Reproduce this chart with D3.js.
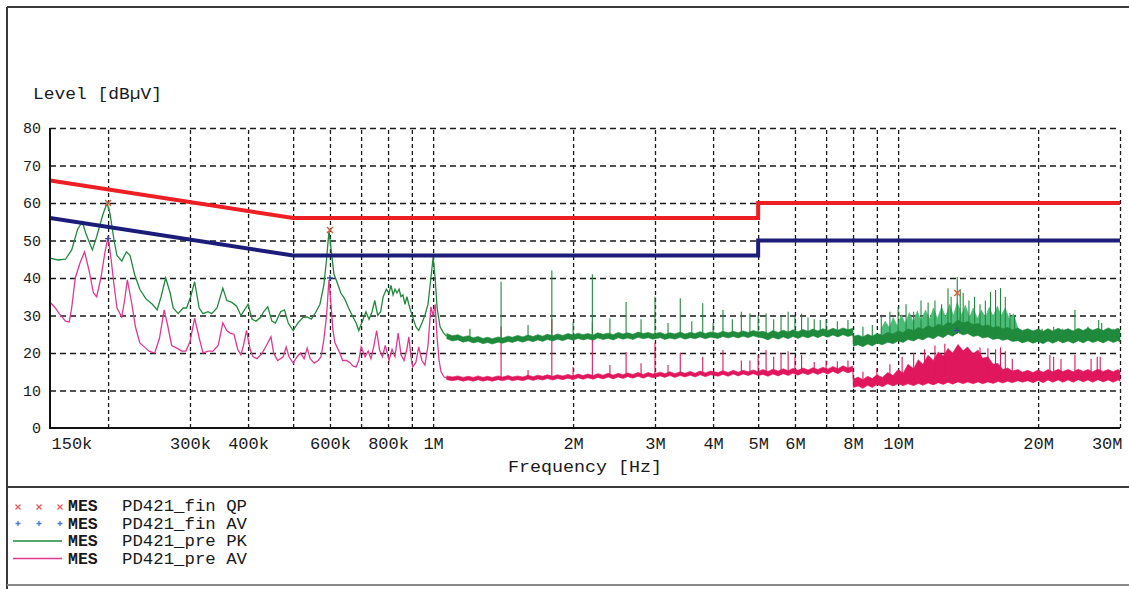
<!DOCTYPE html>
<html><head><meta charset="utf-8">
<script src="https://cdn.jsdelivr.net/npm/d3@7"></script>
<style>
body{margin:0;background:#fff;}
svg{display:block;background:#fff;}
text{font-family:"Liberation Mono","DejaVu Sans Mono",monospace;fill:#1a1a1a;}
</style></head><body>
<svg id="c" width="1129" height="589"></svg>
<script>
// ---------- data ----------
const yTicks = [0,10,20,30,40,50,60,70,80];
const xGrid = [0.2,0.3,0.4,0.5,0.6,0.7,0.8,0.9,1,2,3,4,5,6,7,8,9,10,20,30];
const xTickVals = [0.15,0.3,0.4,0.6,0.8,1,2,3,4,5,6,8,10,20,30];
const xTickLabels = ["150k","300k","400k","600k","800k","1M","2M","3M","4M","5M","6M","8M","10M","20M","30M"];
const limitF = [0.15,0.5,5,5,30];
const qpLimit = [66,56,56,60,60];
const avLimit = [56,46,46,50,50];

// PK pre-scan, 150k..1.07M  [MHz, dBuV]
const pkLow = [[0.150,45.3],[0.156,44.8],[0.162,45.0],[0.167,47.5],[0.172,53],[0.176,55],[0.179,52],[0.185,47.5],[0.189,51],[0.195,57],[0.199,60],[0.202,57],[0.206,50],[0.209,46],[0.214,44.5],[0.219,47],[0.223,46],[0.228,41],[0.234,37],[0.241,34.5],[0.249,33],[0.255,31.5],[0.260,35],[0.266,40],[0.272,36],[0.276,32],[0.283,30.5],[0.290,32],[0.295,32],[0.301,35],[0.307,39],[0.314,32],[0.320,30.5],[0.328,31],[0.334,30.5],[0.343,32],[0.353,37.3],[0.360,34],[0.369,33.5],[0.378,32.5],[0.386,30],[0.393,31.5],[0.400,33],[0.408,29],[0.416,28.5],[0.426,29.5],[0.432,31],[0.441,32.3],[0.450,28.5],[0.458,28],[0.470,31],[0.479,31.5],[0.488,28],[0.500,26],[0.512,28],[0.525,29.5],[0.536,29.6],[0.547,29],[0.560,31],[0.571,33],[0.582,38],[0.590,45],[0.597,52.5],[0.603,48],[0.612,41],[0.621,39],[0.633,36],[0.645,34.5],[0.658,32],[0.670,30],[0.683,28],[0.692,26],[0.707,29],[0.717,31],[0.728,29],[0.739,31],[0.749,34],[0.760,30],[0.771,31],[0.781,35],[0.793,37],[0.804,36],[0.812,38],[0.820,35.5],[0.828,37],[0.836,36],[0.845,37],[0.853,35],[0.861,35.5],[0.870,33],[0.878,35],[0.891,32],[0.904,29.5],[0.918,27],[0.931,26],[0.946,28],[0.960,30],[0.975,33],[0.989,40],[1.000,45.5],[1.010,40],[1.020,32],[1.035,27],[1.051,25.5],[1.067,24.5]];

// AV pre-scan, 150k..1.07M
const avLow = [[0.150,33.6],[0.154,32],[0.157,30.5],[0.162,28.5],[0.165,28.3],[0.167,32],[0.170,40],[0.174,44],[0.178,47],[0.182,42],[0.186,36],[0.189,35],[0.193,40],[0.197,47],[0.200,51],[0.203,45],[0.206,38],[0.209,32],[0.214,29.6],[0.217,34],[0.220,39.5],[0.225,33],[0.229,27],[0.234,22.7],[0.240,21.5],[0.245,20.5],[0.252,20],[0.258,24],[0.264,31.5],[0.269,27],[0.274,22],[0.281,21.3],[0.288,20.5],[0.294,20.5],[0.300,23],[0.307,29.3],[0.314,24],[0.320,20],[0.328,20.5],[0.336,20.5],[0.345,22],[0.353,28],[0.360,26],[0.366,25.3],[0.373,25],[0.380,21],[0.386,19.5],[0.391,22],[0.397,26],[0.404,21],[0.410,19],[0.418,18.5],[0.429,20],[0.438,22],[0.448,24.3],[0.454,20],[0.463,18],[0.470,18.5],[0.476,19],[0.483,21.6],[0.490,19],[0.500,17.3],[0.510,19],[0.518,20],[0.528,18.5],[0.536,21.3],[0.544,18.5],[0.555,17.3],[0.566,18],[0.574,19],[0.582,23.5],[0.590,30],[0.597,39.5],[0.603,33],[0.609,26],[0.615,22.7],[0.630,20],[0.639,18],[0.651,18],[0.661,17.5],[0.673,16.5],[0.683,16.3],[0.692,18],[0.700,21.6],[0.714,19],[0.725,20.5],[0.735,18.5],[0.746,22],[0.756,26],[0.767,20.8],[0.778,19],[0.789,22],[0.804,18],[0.816,21],[0.828,19],[0.841,25.3],[0.853,19.5],[0.866,18],[0.878,21],[0.887,24.3],[0.896,19],[0.904,16.3],[0.918,17.5],[0.931,21.6],[0.946,18],[0.960,16.8],[0.975,22],[0.989,32.3],[1.000,30],[1.010,33],[1.020,24],[1.030,18],[1.040,15],[1.056,13.6],[1.072,13.3]];

// PK noise band above 1 MHz  [MHz, low, high]
const pkBand = [[1.07,23.8,25.2],[1.10,23.2,24.6],[1.13,23.5,24.9],[1.16,22.9,24.3],[1.19,23.2,24.6],[1.22,22.7,24.1],[1.25,23.0,24.4],[1.28,22.5,23.9],[1.31,22.8,24.2],[1.34,22.4,23.8],[1.38,22.9,24.3],[1.41,22.6,24.0],[1.45,23.1,24.5],[1.48,22.8,24.2],[1.52,23.3,24.7],[1.56,22.9,24.3],[1.60,23.4,24.8],[1.64,23.0,24.4],[1.68,23.5,24.9],[1.72,23.1,24.5],[1.76,23.6,25.0],[1.81,23.2,24.6],[1.85,23.7,25.1],[1.90,23.3,24.7],[1.95,23.8,25.2],[2.00,23.4,24.8],[2.05,23.9,25.3],[2.10,23.5,24.9],[2.15,23.8,25.2],[2.21,23.4,24.8],[2.26,24.0,25.4],[2.32,23.6,25.0],[2.38,23.9,25.3],[2.44,23.5,24.9],[2.50,24.1,25.5],[2.56,23.7,25.1],[2.62,24.0,25.4],[2.69,23.6,25.0],[2.76,24.2,25.6],[2.83,23.8,25.2],[2.90,24.1,25.5],[2.97,23.7,25.1],[3.08,24.1,25.5],[3.15,23.6,25.0],[3.23,24.0,25.4],[3.31,23.7,25.1],[3.40,24.2,25.6],[3.48,23.7,25.1],[3.57,24.1,25.5],[3.66,23.8,25.2],[3.75,24.3,25.7],[3.85,23.8,25.2],[3.95,24.2,25.6],[4.10,23.9,25.3],[4.20,24.4,25.8],[4.31,24.0,25.4],[4.42,24.4,25.8],[4.53,24.0,25.4],[4.64,24.5,25.9],[4.76,24.1,25.5],[4.88,24.6,26.0],[5.00,24.2,25.6],[5.12,24.0,25.8],[5.25,23.5,25.3],[5.38,24.2,26.0],[5.52,23.7,25.5],[5.66,24.3,26.1],[5.80,23.8,25.6],[5.94,24.4,26.2],[6.09,23.9,25.7],[6.24,24.5,26.3],[6.40,24.0,25.8],[6.56,24.6,26.4],[6.72,24.1,25.9],[6.89,24.7,26.5],[7.06,24.2,26.0],[7.24,24.8,26.6],[7.42,24.3,26.1],[7.61,24.9,26.7],[7.80,24.4,26.2],[7.99,24.8,26.6],[8.01,21.8,24.4],[8.2,22.2,24.8],[8.4,21.7,24.3],[8.6,22.4,25.0],[8.8,21.9,24.5],[9.0,22.6,25.2],[9.25,22.2,24.8],[9.5,22.9,25.5],[9.75,22.5,25.1],[10.0,23.2,25.9],[10.25,22.8,25.5],[10.5,23.6,26.4],[10.8,23.2,26.0],[11.05,23.9,26.8],[11.3,23.5,26.4],[11.6,24.3,27.3],[11.9,23.8,26.8],[12.2,24.6,27.7],[12.5,24.1,27.2],[12.8,25.0,28.2],[13.1,24.5,27.7],[13.45,25.5,28.8],[13.8,24.8,28.0],[14.1,25.2,28.4],[14.5,24.4,27.6],[14.85,24.7,27.9],[15.2,24.0,27.2],[15.6,24.3,27.5],[16.0,23.6,26.8],[16.4,23.9,27.1],[16.8,23.4,26.5],[17.2,23.7,26.8],[17.6,23.1,26.2],[18.1,23.3,26.6],[18.5,22.7,26.0],[19.0,23.2,26.5],[19.5,22.6,25.9],[20.0,23.1,26.4],[20.5,22.5,25.8],[21.0,23.2,26.5],[21.5,22.6,25.9],[22.1,23.3,26.6],[22.6,22.7,26.0],[23.2,23.2,26.5],[23.8,22.6,25.9],[24.4,23.3,26.6],[25.0,22.7,26.0],[25.6,23.4,26.7],[26.2,22.8,26.1],[26.9,23.3,26.6],[27.6,22.7,26.0],[28.3,23.4,26.7],[29.0,22.8,26.1],[29.7,23.3,26.6],[30.0,22.9,26.2]];

// PK dense burst region (light green)  [MHz, low, high]
const pkDense = [[9.2,25,26.5],[9.38,25,28.5],[9.57,25,26.8],[9.76,25,29.5],[9.96,25,27.2],[10.16,25,30.2],[10.36,25.2,27.8],[10.57,25.2,30.8],[10.78,25.4,28.2],[11.0,25.4,31.2],[11.2,25.6,28.6],[11.45,25.6,31.5],[11.7,25.8,29.0],[11.9,25.8,32.0],[12.15,26,29.2],[12.4,26,32.3],[12.65,26.2,29.6],[12.9,26.2,33.0],[13.15,26.4,30.0],[13.4,26.4,33.5],[13.7,26.4,30.2],[13.95,26.2,32.8],[14.25,26,29.5],[14.5,26,32.0],[14.8,25.8,29.2],[15.1,25.8,31.5],[15.4,25.6,29.5],[15.7,25.6,32.2],[16.0,25.4,29.8],[16.35,25.4,32.5],[16.65,25.2,30.0],[17.0,25.2,32.0],[17.35,25,29.0],[17.7,25,30.5],[18.05,24.8,27.0],[18.4,24.6,25.5]];

// PK harmonics  [MHz, base, top]
const pkSpikes = [[1.2,24,26.5],[1.4,24,39],[1.6,24,27.5],[1.8,24.3,42],[2.0,24.3,28.3],[2.2,24.5,41],[2.4,24.5,29.3],[2.6,24.5,33.6],[2.8,24.5,29],[3.0,24.7,35],[3.2,24.7,28],[3.4,24.7,34.6],[3.6,24.7,28.5],[3.8,24.8,33.3],[4.0,24.8,28],[4.2,24.8,31.5],[4.4,25,29],[4.6,25,31],[4.8,25,30.6],[5.0,25,30],[5.2,25.2,30.6],[5.4,25.2,29],[5.6,25.2,30],[5.8,25.3,31],[6.0,25.3,30],[6.2,25.3,30.5],[6.4,25.4,29.5],[6.6,25.4,29],[6.8,25.5,28.8],[7.0,25.5,29],[7.4,25.6,28.5],[7.8,25.7,28.8],[8.4,23,27],[8.8,23,27.5],[9.2,23.3,29.6],[9.6,23.5,31],[10.0,24,32.3],[10.4,24.2,33],[10.8,24.4,31],[11.2,24.6,34],[11.6,24.8,33.5],[12.0,25,34],[12.4,25.2,33],[12.8,25.5,37.3],[13.0,25.7,35],[13.4,26,40.3],[13.6,26,37],[13.8,26,36],[14.2,25.8,34],[14.6,25.5,35],[15.0,25.3,33],[15.4,25,34],[15.8,25,36.3],[16.2,24.8,36.8],[16.6,24.6,37.3],[17.0,24.5,35],[17.4,24.3,30.6],[17.8,24.2,30],[20.4,24,26.5],[21.6,24,27],[22.6,24,26.5],[24.0,24,31.5],[25.6,24,27],[27.0,24,28.8],[27.4,24,28],[29.0,24,26.5]];

// AV noise band above 1 MHz  [MHz, low, high]
const avBand = [[1.07,12.9,13.9],[1.10,12.6,13.6],[1.13,12.9,13.9],[1.16,12.5,13.5],[1.19,12.8,13.8],[1.22,12.5,13.5],[1.25,12.9,13.9],[1.28,12.5,13.5],[1.31,12.8,13.8],[1.34,12.5,13.5],[1.38,12.9,13.9],[1.41,12.6,13.6],[1.45,13.0,14.0],[1.48,12.6,13.6],[1.52,12.9,13.9],[1.56,12.6,13.6],[1.60,13.1,14.1],[1.64,12.7,13.7],[1.68,13.1,14.1],[1.72,12.8,13.8],[1.76,13.2,14.2],[1.81,12.8,13.8],[1.85,13.2,14.2],[1.90,12.9,13.9],[1.95,13.3,14.3],[2.00,12.9,13.9],[2.05,13.4,14.4],[2.10,13.0,14.0],[2.15,13.4,14.4],[2.21,13.0,14.0],[2.26,13.5,14.5],[2.32,13.1,14.1],[2.38,13.6,14.6],[2.44,13.1,14.1],[2.50,13.6,14.6],[2.56,13.2,14.2],[2.62,13.7,14.7],[2.69,13.3,14.3],[2.76,13.8,14.8],[2.83,13.3,14.3],[2.90,13.8,14.8],[2.97,13.4,14.4],[3.08,13.9,14.9],[3.15,13.5,14.5],[3.23,14.0,15.0],[3.31,13.5,14.5],[3.40,14.0,15.0],[3.48,13.6,14.6],[3.57,14.1,15.1],[3.66,13.6,14.6],[3.75,14.2,15.2],[3.85,13.7,14.7],[3.95,14.2,15.2],[4.10,13.8,14.8],[4.20,14.3,15.3],[4.31,13.8,14.8],[4.42,14.4,15.4],[4.53,13.9,14.9],[4.64,14.4,15.4],[4.76,14.0,15.0],[4.88,14.5,15.5],[5.00,14.0,15.0],[5.12,14.3,15.6],[5.25,13.8,15.1],[5.38,14.4,15.7],[5.52,13.9,15.2],[5.66,14.5,15.8],[5.80,14.0,15.3],[5.94,14.6,15.9],[6.09,14.1,15.4],[6.24,14.7,16.0],[6.40,14.2,15.5],[6.56,14.8,16.1],[6.72,14.3,15.6],[6.89,14.9,16.2],[7.06,14.4,15.7],[7.24,15.1,16.4],[7.42,14.5,15.8],[7.61,15.3,16.6],[7.80,14.7,16.0],[7.99,15.2,16.5],[8.01,10.8,13.0],[8.2,11.2,13.6],[8.4,10.6,12.9],[8.6,11.4,13.8],[8.8,10.8,13.2],[9.0,11.6,14.2],[9.25,11.0,13.5],[9.5,11.8,14.8],[9.75,11.2,14.0],[10.0,11.8,15.6],[10.25,11.3,14.6],[10.5,11.8,17.0],[10.8,11.3,15.8],[11.05,11.9,18.2],[11.3,11.4,17.0],[11.6,12.0,19.4],[11.9,11.5,18.0],[12.2,12.1,20.3],[12.5,11.6,19.2],[12.8,12.2,21.2],[13.1,11.7,20.0],[13.45,12.3,22.3],[13.8,11.8,20.6],[14.1,12.3,21.6],[14.5,11.8,19.8],[14.85,12.3,20.8],[15.2,11.8,18.6],[15.6,12.3,19.0],[16.0,11.9,17.0],[16.4,12.4,17.2],[16.8,12.0,15.6],[17.2,12.5,16.0],[17.6,12.1,15.2],[18.1,12.6,15.6],[18.5,12.2,14.9],[19.0,12.6,15.4],[19.5,12.1,14.8],[20.0,12.7,15.5],[20.5,12.1,14.9],[21.0,12.8,15.6],[21.5,12.2,15.0],[22.1,12.8,15.7],[22.6,12.2,15.1],[23.2,12.8,15.6],[23.8,12.2,15.0],[24.4,12.9,15.7],[25.0,12.3,15.1],[25.6,12.8,15.6],[26.2,12.2,15.0],[26.9,12.9,15.7],[27.6,12.3,15.1],[28.3,12.8,15.6],[29.0,12.2,15.0],[29.7,12.8,15.6],[30.0,12.5,15.2]];

// AV harmonics  [MHz, base, top]
const avSpikes = [[1.4,13.5,27],[1.6,13.5,15.5],[1.8,13.7,29],[2.0,13.8,16.3],[2.2,13.8,28.5],[2.4,14,16.8],[2.6,14,20.3],[2.8,14,17.3],[3.0,14,22.7],[3.2,14.2,16.8],[3.4,14.2,20],[3.8,14.2,19],[4.2,14.3,20.8],[4.6,14.3,18],[4.8,14.4,18],[5.0,14.5,19.5],[5.2,14.5,20.8],[5.4,14.5,19],[5.6,14.6,20],[5.8,14.6,20.5],[6.0,14.8,19],[6.2,14.8,19.5],[6.6,15,17.6],[7.0,15.2,18],[7.4,15.3,17.8],[7.8,15.5,18],[8.4,12,15],[9.0,12,16],[9.6,12.3,17],[10.2,12.5,19],[10.8,12.8,20],[11.4,13,21],[12.0,13.2,22],[12.6,13.5,22.5],[15.0,13.5,21.5],[15.6,13.5,21.3],[16.2,13.5,21],[16.6,13.5,21.5],[17.0,13.5,20.5],[17.6,13.5,18.5],[21.2,13.8,19.5],[21.6,13.8,19],[22.4,13.8,18.5],[24.0,13.8,19.5],[26.0,13.8,18.5],[26.8,13.8,19],[27.2,13.8,19]];

// final measurements
const qpFinal = [[0.2,60],[0.6,52.8],[13.4,36]];
const avFinal = [[0.2,50.5],[0.6,40],[13.4,26]];

// legend
const legendTag = ["MES","MES","MES","MES"];
const legendName = ["PD421_fin QP","PD421_fin AV","PD421_pre PK","PD421_pre AV"];

// ---------- drawing ----------
const svg = d3.select("#c");
const L = 50, R = 1120, T = 128, B = 428;
const x = d3.scaleLog().domain([0.15,30]).range([L,R]);
const y = d3.scaleLinear().domain([0,80]).range([B,T]);

const C = {red:"#ee1f24", navy:"#1b1d78", green:"#1f8a3c", greenLight:"#4dbb78",
           pinkLow:"#e2388f", pinkHigh:"#e0175c", grid:"#1a1a1a", frame:"#3a3a3a"};

// frame
const fr = svg.append("g").attr("stroke",C.frame).attr("stroke-width",2);
fr.append("line").attr("x1",7).attr("x2",1129).attr("y1",7).attr("y2",7);
fr.append("line").attr("x1",7).attr("x2",7).attr("y1",7).attr("y2",589);
fr.append("line").attr("x1",7).attr("x2",1129).attr("y1",487).attr("y2",487);
fr.append("line").attr("x1",7).attr("x2",1129).attr("y1",585).attr("y2",585).attr("stroke","#888");

// grid
const gy = svg.append("g").attr("transform",`translate(${L},0)`)
  .call(d3.axisLeft(y).tickValues(yTicks.filter(v=>v>0)).tickSize(-(R-L)).tickFormat(""));
gy.select(".domain").remove();
gy.selectAll(".tick line").attr("stroke",C.grid).attr("stroke-width",1.3).attr("stroke-dasharray","6,4");
const gx = svg.append("g").attr("transform",`translate(0,${B})`)
  .call(d3.axisBottom(x).tickValues(xGrid).tickSize(-(B-T)).tickFormat(""));
gx.select(".domain").remove();
gx.selectAll(".tick line").attr("stroke",C.grid).attr("stroke-width",1.3).attr("stroke-dasharray","4,3");

// clip
svg.append("defs").append("clipPath").attr("id","pc").append("rect")
  .attr("x",L).attr("y",T-4).attr("width",R-L+2).attr("height",B-T+4);
const plot = svg.append("g").attr("clip-path","url(#pc)");

const line = d3.line().x(d=>x(d[0])).y(d=>y(d[1]));
const band = d3.area().x(d=>x(d[0])).y0(d=>y(d[1])).y1(d=>y(d[2]));
const spikes = (g,data,color,w)=>g.append("g").selectAll("line").data(data).join("line")
  .attr("x1",d=>x(d[0])).attr("x2",d=>x(d[0])).attr("y1",d=>y(d[1])).attr("y2",d=>y(d[2]))
  .attr("stroke",color).attr("stroke-width",w);

// AV trace
plot.append("path").datum(avLow).attr("d",line).attr("fill","none").attr("stroke",C.pinkLow).attr("stroke-width",1.3);
plot.append("path").datum(avBand).attr("d",band).attr("fill",C.pinkHigh).attr("stroke",C.pinkHigh).attr("stroke-width",0.6);
spikes(plot,avSpikes,C.pinkHigh,1.1);

// PK trace
plot.append("path").datum(pkDense).attr("d",band).attr("fill",C.greenLight).attr("stroke",C.greenLight).attr("stroke-width",0.6);
plot.append("path").datum(pkBand).attr("d",band).attr("fill",C.green).attr("stroke",C.green).attr("stroke-width",0.6);
spikes(plot,pkSpikes,C.green,1.1);
plot.append("path").datum(pkLow).attr("d",line).attr("fill","none").attr("stroke",C.green).attr("stroke-width",1.3);

// limits
const limLine = d3.line().x((d,i)=>x(limitF[i])).y(d=>y(d));
plot.append("path").datum(qpLimit).attr("d",limLine).attr("fill","none").attr("stroke",C.red).attr("stroke-width",4);
plot.append("path").datum(avLimit).attr("d",limLine).attr("fill","none").attr("stroke",C.navy).attr("stroke-width",4);

// final markers
const mk = svg.append("g");
qpFinal.forEach(d=>{
  const cx=x(d[0]), cy=y(d[1]);
  mk.append("path").attr("d",`M${cx-3},${cy-3}L${cx+3},${cy+3}M${cx-3},${cy+3}L${cx+3},${cy-3}`)
    .attr("stroke","#d2603a").attr("stroke-width",1.4);
});
avFinal.forEach(d=>{
  const cx=x(d[0]), cy=y(d[1]);
  mk.append("path").attr("d",`M${cx-3},${cy}L${cx+3},${cy}M${cx},${cy-3}L${cx},${cy+3}`)
    .attr("stroke","#3a4a9a").attr("stroke-width",1.4);
});

// axis lines
svg.append("line").attr("x1",L).attr("x2",L).attr("y1",T).attr("y2",B+1).attr("stroke","#111").attr("stroke-width",2);
svg.append("line").attr("x1",L-1).attr("x2",R).attr("y1",B).attr("y2",B).attr("stroke","#111").attr("stroke-width",2);

// y labels
const ay = svg.append("g").attr("transform",`translate(${L},0)`)
  .call(d3.axisLeft(y).tickValues(yTicks).tickSize(0).tickPadding(9).tickFormat(d3.format("d")));
ay.select(".domain").remove();
ay.selectAll("text").attr("font-family","Liberation Mono").attr("font-size",15).attr("fill","#1a1a1a");

// x labels
const ax = svg.append("g").attr("transform",`translate(0,${B})`)
  .call(d3.axisBottom(x).tickValues(xTickVals).tickSize(0).tickPadding(9).tickFormat((d,i)=>xTickLabels[i]));
ax.select(".domain").remove();
ax.selectAll("text").attr("font-family","Liberation Mono").attr("font-size",17).attr("fill","#1a1a1a");
ax.selectAll("text").filter((d,i)=>i===0).attr("text-anchor","start").attr("dx",1);
ax.selectAll("text").filter((d,i)=>i===xTickVals.length-1).attr("text-anchor","end").attr("dx",2);

// axis titles
svg.append("text").attr("x",33).attr("y",99).attr("font-size",17)
  .attr("textLength",129).attr("lengthAdjust","spacingAndGlyphs").text("Level [dBµV]");
svg.append("text").attr("x",508).attr("y",472).attr("font-size",17)
  .attr("textLength",154).attr("lengthAdjust","spacingAndGlyphs").text("Frequency [Hz]");

// legend
const lg = svg.append("g");
const rowY = [511,528.5,546,563.5];
legendName.forEach((nm,i)=>{
  lg.append("text").attr("x",68).attr("y",rowY[i]).attr("font-size",16.5).attr("font-weight","bold").text(legendTag[i]);
  lg.append("text").attr("x",122).attr("y",rowY[i]).attr("font-size",17).attr("textLength",125).attr("lengthAdjust","spacingAndGlyphs").text(nm);
});
[18,39,60].forEach(cx=>{
  const cy=rowY[0]-4;
  lg.append("path").attr("d",`M${cx-2.5},${cy-2.5}L${cx+2.5},${cy+2.5}M${cx-2.5},${cy+2.5}L${cx+2.5},${cy-2.5}`)
    .attr("stroke","#e8585a").attr("stroke-width",1.3);
  const cy2=rowY[1]-5;
  lg.append("path").attr("d",`M${cx-2.5},${cy2}L${cx+2.5},${cy2}M${cx},${cy2-2.5}L${cx},${cy2+2.5}`)
    .attr("stroke","#4a78d8").attr("stroke-width",1.3);
});
lg.append("line").attr("x1",13).attr("x2",62).attr("y1",rowY[2]-5).attr("y2",rowY[2]-5).attr("stroke",C.green).attr("stroke-width",1.3);
lg.append("line").attr("x1",13).attr("x2",62).attr("y1",rowY[3]-5).attr("y2",rowY[3]-5).attr("stroke",C.pinkLow).attr("stroke-width",1.3);
</script>
</body></html>
